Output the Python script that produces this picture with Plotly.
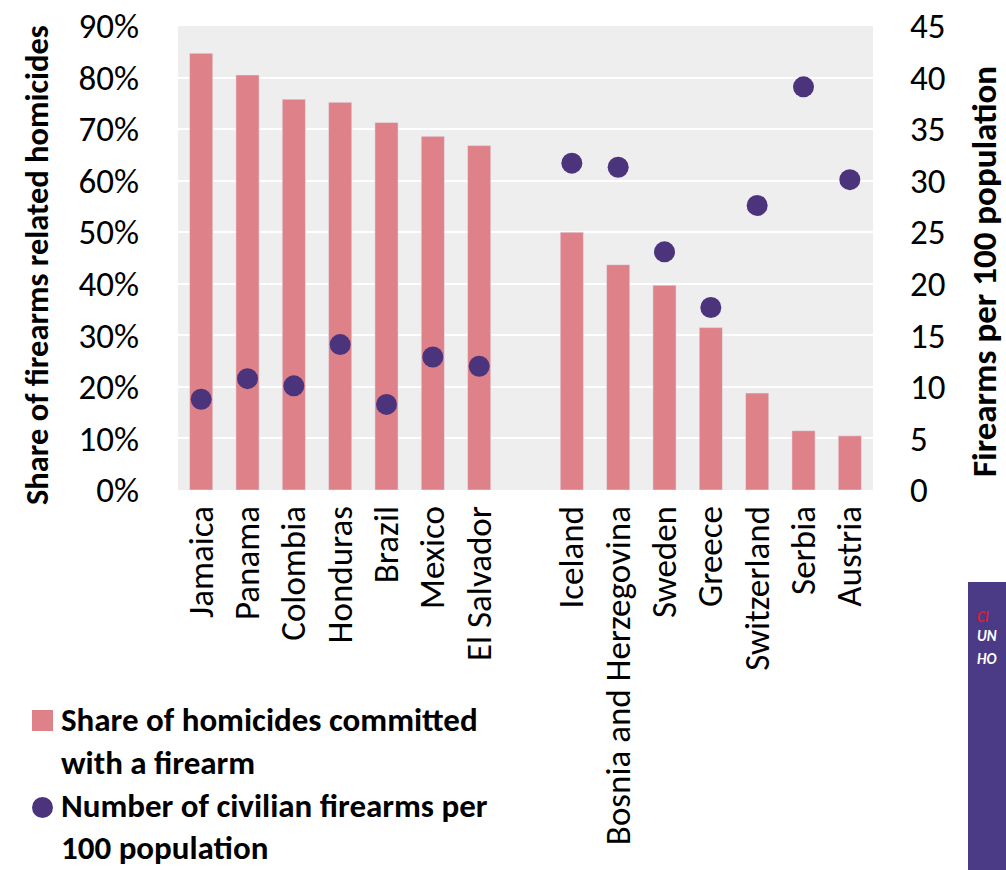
import plotly.graph_objects as go

countries = ["Jamaica", "Panama", "Colombia", "Honduras", "Brazil", "Mexico", "El Salvador",
             " ",
             "Iceland", "Bosnia and Herzegovina", "Sweden", "Greece", "Switzerland", "Serbia", "Austria"]
share_firearm_homicides = [0.847, 0.805, 0.758, 0.752, 0.713, 0.686, 0.668,
                           None,
                           0.500, 0.437, 0.397, 0.315, 0.188, 0.115, 0.105]
firearms_per_100 = [8.8, 10.8, 10.1, 14.1, 8.3, 12.9, 12.0,
                    None,
                    31.7, 31.3, 23.1, 17.7, 27.6, 39.1, 30.1]
legend_lines = [["Share of homicides committed", "with a firearm"],
                ["Number of civilian firearms per", "100 population"]]

FONT = "Calibri, Carlito, Lato, 'Open Sans', sans-serif"
BAR_C = "#DE8189"
DOT_C = "#4B347C"

W, H = 1006, 870
L, R, T, B = 178, 873, 26, 490


def px(xp):
    return (xp - L) / (R - L)


def py(yp):
    return (B - yp) / (B - T)


fig = go.Figure()
fig.add_trace(go.Bar(
    x=countries, y=share_firearm_homicides, marker_color=BAR_C,
    name=" ".join(legend_lines[0]), yaxis="y", showlegend=False,
))
fig.add_trace(go.Scatter(
    x=countries, y=firearms_per_100, mode="markers", yaxis="y2",
    marker=dict(color=DOT_C, size=21), name=" ".join(legend_lines[1]), showlegend=False,
))

TICK = 35
fig.update_layout(
    width=W, height=H,
    margin=dict(l=L, r=W - R, t=T, b=H - B, autoexpand=False),
    paper_bgcolor="white", plot_bgcolor="#EDEEED",
    font=dict(family=FONT, size=TICK, color="black"),
    bargap=0.5,
    showlegend=False,
    xaxis=dict(
        type="category", range=[-0.5, len(countries) - 0.5], tickangle=-90,
        showgrid=False, zeroline=False, showline=False, automargin=False,
        tickfont=dict(size=TICK), ticks="outside", ticklen=1, tickcolor="rgba(0,0,0,0)",
    ),
    yaxis=dict(
        range=[0, 0.9], dtick=0.1, tickformat=".0%", showgrid=True, gridcolor="white",
        gridwidth=2, zeroline=False, showline=False, automargin=False,
        ticks="outside", ticklen=31, tickcolor="rgba(0,0,0,0)", tickfont=dict(size=TICK),
    ),
    yaxis2=dict(
        range=[0, 45], dtick=5, overlaying="y", side="right", showgrid=False,
        zeroline=False, showline=False, automargin=False, ticks="outside", ticklen=29,
        tickcolor="rgba(0,0,0,0)", tickfont=dict(size=TICK),
    ),
)

# axis titles
fig.add_annotation(
    text="Share of firearms related homicides", textangle=-90,
    xref="paper", yref="paper", x=px(37), y=py(265), xanchor="center", yanchor="middle",
    showarrow=False, font=dict(family=FONT, size=32.5, color="black", weight="bold"),
)
fig.add_annotation(
    text="Firearms per 100 population", textangle=-90,
    xref="paper", yref="paper", x=px(984), y=py(272), xanchor="center", yanchor="middle",
    showarrow=False, font=dict(family=FONT, size=35, color="black", weight="bold"),
)

# legend (drawn manually for large swatches)
LEG = 33
fig.add_shape(type="rect", xref="paper", yref="paper",
              x0=px(32), x1=px(53), y0=py(710), y1=py(731),
              fillcolor=BAR_C, line_width=0)
fig.add_shape(type="circle", xref="paper", yref="paper",
              x0=px(32), x1=px(53), y0=py(797), y1=py(818),
              fillcolor=DOT_C, line_width=0)
line_y = [[720, 763], [806, 848]]
for lines, ys in zip(legend_lines, line_y):
    for txt, yc in zip(lines, ys):
        fig.add_annotation(text=txt, xref="paper", yref="paper", x=px(60), y=py(yc),
                           xanchor="left", yanchor="middle", align="left", showarrow=False,
                           borderpad=0,
                           font=dict(family=FONT, size=LEG, color="black", weight="bold"))

# cropped slide panel at bottom right
fig.add_shape(type="rect", xref="paper", yref="paper",
              x0=px(968), x1=px(1010), y0=py(582), y1=py(875),
              fillcolor="#4B3A85", line_width=0, layer="above")
for txt, yc, col in [("CI", 617, "#D0243C"), ("UN", 636, "white"), ("HO", 659, "white")]:
    fig.add_annotation(text="<i><b>" + txt + "</b></i>", xref="paper", yref="paper",
                       x=px(975), y=py(yc), xanchor="left", yanchor="middle",
                       showarrow=False, font=dict(family=FONT, size=15, color=col))

fig.write_html("out.html")
